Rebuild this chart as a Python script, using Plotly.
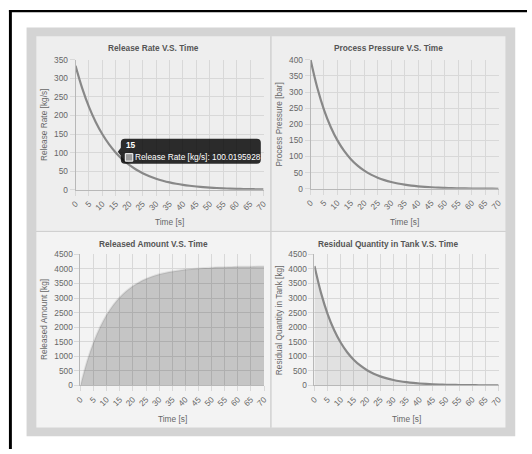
import plotly.graph_objects as go

# ---- data -------------------------------------------------------------
time_s = [0, 2.5, 5, 7.5, 10, 12.5, 15, 17.5, 20, 22.5, 25, 27.5, 30, 32.5, 35,
          37.5, 40, 42.5, 45, 47.5, 50, 52.5, 55, 57.5, 60, 62.5, 65, 67.5, 70]

release_rate = [334.0, 273.2, 223.4, 182.7, 149.5, 122.3, 100.0195928, 81.8, 66.9,
                54.7, 44.8, 36.6, 29.9, 24.5, 20.0, 16.4, 13.4, 11.0, 9.0, 7.3,
                6.0, 4.9, 4.0, 3.3, 2.7, 2.2, 1.8, 1.5, 1.2]

process_pressure = [400.0, 313.1, 245.0, 191.8, 150.1, 117.5, 92.0, 72.0, 56.3,
                    44.1, 34.5, 27.0, 21.1, 16.5, 12.9, 10.1, 7.9, 6.2, 4.9, 3.8,
                    3.0, 2.3, 1.8, 1.4, 1.1, 0.9, 0.7, 0.5, 0.4]

released_amount = [0, 824, 1482, 2007, 2427, 2762, 3030, 3243, 3414, 3550, 3659,
                   3746, 3815, 3870, 3915, 3950, 3978, 4001, 4019, 4033, 4045,
                   4054, 4061, 4067, 4072, 4075, 4078, 4081, 4083]

residual_quantity = [4100, 3169, 2450, 1894, 1464, 1132, 875, 676, 523, 404, 312,
                     241, 187, 144, 112, 86, 67, 52, 40, 31, 24, 18.5, 14.3, 11.1,
                     8.6, 6.6, 5.1, 4.0, 3.1]

time_ticks = list(range(0, 75, 5))

# highlighted point shown in the hover box
hover_time = 15
hover_label = "Release Rate [kg/s]"
hover_value = 100.0195928

# ---- page geometry (pixels) ------------------------------------------
W, H = 532, 454
FONT = "Liberation Sans, Arial, Helvetica, sans-serif"
TXT = "#666666"
GRID = "#d8d8d8"
AXLINE = "#b8b8b8"
LINE = "#888888"
FS = 8.3


def fx(p):
    return p / W


def fy(p):
    return 1 - p / H


fig = go.Figure()

# panels: (axis suffix, plot x0, x1, y top, y bottom, y max, dtick, title, ytitle, panel box)
panels = [
    ("", 71, 263, 56, 189, 350, 50, "Release Rate V.S. Time", "Release Rate [kg/s]",
     (31, 270, 32, 231), "#eeeeee"),
    ("2", 311, 503, 56, 188, 400, 50, "Process Pressure V.S. Time", "Process Pressure [bar]",
     (271, 510, 32, 231), "#eeeeee"),
    ("3", 76, 263.5, 255, 389, 4500, 500, "Released Amount V.S. Time", "Released Amount [kg]",
     (31, 270, 232, 432), "#f3f3f3"),
    ("4", 315, 503, 255, 389, 4500, 500, "Residual Quantity in Tank V.S. Time",
     "Residual Quantity in Tank [kg]", (271, 510, 232, 432), "#f3f3f3"),
]

shapes = [
    # outer frame
    dict(type="rect", xref="paper", yref="paper", x0=fx(21), x1=fx(520), y0=fy(441), y1=fy(23),
         fillcolor="#d4d4d4", line_width=0, layer="below"),
    dict(type="rect", xref="paper", yref="paper", x0=fx(3), x1=fx(W), y0=fy(7.5), y1=fy(5),
         fillcolor="#000000", line_width=0, layer="below"),
    dict(type="rect", xref="paper", yref="paper", x0=fx(3), x1=fx(6), y0=0, y1=fy(5),
         fillcolor="#000000", line_width=0, layer="below"),
]
annotations = []
layout_axes = {}

for (sfx, x0, x1, yt, yb, ymax, dt, title, ytitle, box, bg) in panels:
    bx0, bx1, by0, by1 = box
    shapes.append(dict(type="rect", xref="paper", yref="paper", x0=fx(bx0), x1=fx(bx1),
                       y0=fy(by1), y1=fy(by0), fillcolor=bg, line_width=0, layer="below"))
    layout_axes["xaxis" + sfx] = dict(
        domain=[fx(x0), fx(x1)], anchor="y" + sfx, range=[0, 70], tickvals=time_ticks,
        tickangle=-45, showgrid=True, gridcolor=GRID, gridwidth=1, zeroline=False,
        showline=True, linecolor=AXLINE, linewidth=1, ticks="outside", ticklen=5,
        tickcolor=GRID, tickfont=dict(family=FONT, size=FS, color=TXT), fixedrange=True,
    )
    layout_axes["yaxis" + sfx] = dict(
        domain=[fy(yb), fy(yt)], anchor="x" + sfx, range=[0, ymax], dtick=dt,
        showgrid=True, gridcolor=GRID, gridwidth=1, zeroline=False,
        showline=True, linecolor=AXLINE, linewidth=1, ticks="outside", ticklen=5,
        tickcolor=GRID, tickfont=dict(family=FONT, size=FS, color=TXT), fixedrange=True,
    )
    cx = (bx0 + bx1) / 2
    annotations.append(dict(text="<b>" + title + "</b>", xref="paper", yref="paper",
                            x=fx(cx), y=fy(by0 + 12), xanchor="center", yanchor="middle",
                            showarrow=False, font=dict(family=FONT, size=FS, color="#555555")))
    annotations.append(dict(text="Time [s]", xref="paper", yref="paper",
                            x=fx((x0 + x1) / 2), y=fy(by1 - 9), xanchor="center",
                            yanchor="middle", showarrow=False,
                            font=dict(family=FONT, size=FS, color=TXT)))
    annotations.append(dict(text=ytitle, xref="paper", yref="paper", textangle=-90,
                            x=fx(bx0 + 8), y=fy((yt + yb) / 2), xanchor="center",
                            yanchor="middle", showarrow=False,
                            font=dict(family=FONT, size=FS, color=TXT)))

# divider lines between the four panels
shapes.append(dict(type="line", xref="paper", yref="paper", x0=fx(270.5), x1=fx(270.5),
                   y0=fy(432), y1=fy(32), line=dict(color="#cfcfcf", width=1), layer="below"))
shapes.append(dict(type="line", xref="paper", yref="paper", x0=fx(31), x1=fx(510),
                   y0=fy(231.5), y1=fy(231.5), line=dict(color="#cfcfcf", width=1),
                   layer="below"))

# ---- traces ------------------------------------------------------------
fig.add_trace(go.Scatter(x=time_s, y=release_rate, mode="lines", line_shape="spline",
                         line=dict(color=LINE, width=2.2), xaxis="x", yaxis="y",
                         hoverinfo="skip"))
fig.add_trace(go.Scatter(x=time_s, y=process_pressure, mode="lines", line_shape="spline",
                         line=dict(color=LINE, width=2.2), xaxis="x2", yaxis="y2",
                         hoverinfo="skip"))
fig.add_trace(go.Scatter(x=time_s, y=released_amount, mode="lines", line_shape="spline",
                         fill="tozeroy", fillcolor="rgba(0,0,0,0.19)",
                         line=dict(color="rgba(0,0,0,0.08)", width=2), xaxis="x3",
                         yaxis="y3", hoverinfo="skip"))
fig.add_trace(go.Scatter(x=time_s, y=residual_quantity, mode="lines", line_shape="spline",
                         fill="tozeroy", fillcolor="rgba(0,0,0,0.07)",
                         line=dict(color=LINE, width=2.2), xaxis="x4", yaxis="y4",
                         hoverinfo="skip"))

# ---- hover box pinned to the highlighted release-rate point ----------
box_path = ("M 2,1 L 5,5 L 5,10 Q 5,14 9,14 L 141,14 Q 145,14 145,10 L 145,-7 "
            "Q 145,-11 141,-11 L 9,-11 Q 5,-11 5,-7 L 5,-3 Z")
shapes.append(dict(type="path", xref="x", yref="y", xsizemode="pixel", ysizemode="pixel",
                   xanchor=hover_time, yanchor=hover_value, path=box_path,
                   fillcolor="rgba(0,0,0,0.82)", line_width=0, layer="above"))
shapes.append(dict(type="rect", xref="x", yref="y", xsizemode="pixel", ysizemode="pixel",
                   xanchor=hover_time, yanchor=hover_value, x0=9.5, x1=17, y0=-1, y1=-8.5,
                   fillcolor="#9a9a9a", line=dict(color="#ffffff", width=1), layer="above"))
annotations.append(dict(text="<b>%d</b>" % hover_time, xref="x", yref="y", x=hover_time,
                        y=hover_value, xanchor="left", yanchor="middle", xshift=8, yshift=7.5,
                        showarrow=False, font=dict(family=FONT, size=FS, color="#ffffff")))
annotations.append(dict(text="%s: %s" % (hover_label, hover_value), xref="x", yref="y",
                        x=hover_time, y=hover_value, xanchor="left", yanchor="middle",
                        xshift=17, yshift=-4.5, showarrow=False,
                        font=dict(family=FONT, size=FS, color="#ffffff")))

fig.update_layout(
    width=W, height=H, margin=dict(l=0, r=0, t=0, b=0), autosize=False,
    paper_bgcolor="#ffffff", plot_bgcolor="rgba(0,0,0,0)", showlegend=False,
    shapes=shapes, annotations=annotations, font=dict(family=FONT, color=TXT),
    **layout_axes,
)

# keep the figure flush with the page's top-left corner
fig.write_html("out.html", config=dict(displayModeBar=False, staticPlot=True),
               post_script="document.body.style.margin='0';")
